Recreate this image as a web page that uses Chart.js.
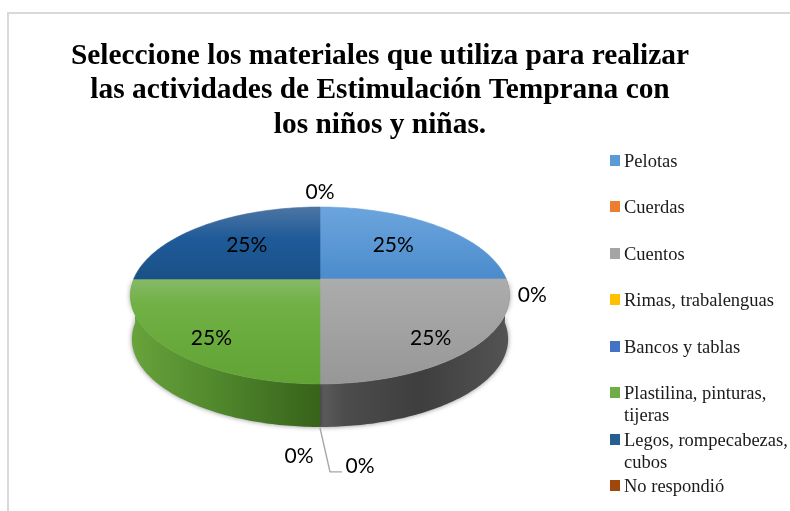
<!DOCTYPE html>
<html>
<head>
<meta charset="utf-8">
<style>html,body{margin:0;padding:0;background:#fff}canvas{display:block}</style>
<script src="https://cdn.jsdelivr.net/npm/chart.js@4/dist/chart.umd.min.js"></script>
</head>
<body>
<canvas id="c" width="790" height="511"></canvas>
<script>
const titleLines = ['Seleccione los materiales que utiliza para realizar','las actividades de Estimulación Temprana con','los niños y niñas.'];
const categories = ['Pelotas','Cuerdas','Cuentos','Rimas, trabalenguas','Bancos y tablas',['Plastilina, pinturas,','tijeras'],['Legos, rompecabezas,','cubos'],'No respondió'];
const percentages = [25,0,25,0,0,25,25,0];
const legendColors = ['#5b9bd5','#ed7d31','#a5a5a5','#ffc000','#4472c4','#70ad47','#255e91','#9e480e'];

// Styling of the pictured perspective pie
const PIE = {cx:320, cy:279, rx:186.3, b:85.4, a:-0.186, depth:44, lowerScale:0.992};
const faceStops = {
  0:[[207,'#6ca5dd'],[279,'#4b8bcc']],
  2:[[279,'#acacac'],[384,'#979797']],
  5:[[279,'#86ba68'],[305,'#70b044'],[384,'#61a335']],
  6:[[207,'#4d75a3'],[238,'#1f5b99'],[279,'#1a5087']]
};
const wallStops = {
  2:[[320,'#5e5c5e'],[345,'#4c4c4c'],[420,'#3e3e3e'],[510,'#545454']],
  5:[[131,'#68a33b'],[210,'#528a2e'],[320,'#37621a']]
};
// [fraction of radius along the slice's mid angle, pixel nudge x, pixel nudge y]
const labelPlacement = [[0.6,0,0],[1,26,16],[0.75,1,9],[1,-21,72],[1,40,82],[0.75,1,9],[0.6,0,0],[1,0,-15]];
const legendLayout = {swatchX:610, swatchW:10, swatchH:11, textX:624, firstY:161, textDy:1, pitch:46.45, linePitch:22};

function project(angle, f, dy, scale){
  const u = Math.cos(angle)*f, v = Math.sin(angle)*f, s = scale||1;
  const d = 1 + PIE.a*v;
  return {x: PIE.cx + s*PIE.rx*u/d, y: PIE.cy + (dy||0) + s*PIE.b*v/d + (s===1?0:(1-s)*(-16))};
}
function rim(ctx, a0, a1, dy, scale, move){
  const n = 96;
  for(let i=0;i<=n;i++){
    const p = project(a0+(a1-a0)*i/n, 1, dy, scale);
    if(i===0 && move) ctx.moveTo(p.x,p.y); else ctx.lineTo(p.x,p.y);
  }
}
function vGrad(ctx, stops){
  const y0=stops[0][0], y1=stops[stops.length-1][0];
  const g=ctx.createLinearGradient(0,y0,0,y1);
  stops.forEach(s=>g.addColorStop((s[0]-y0)/(y1-y0),s[1]));
  return g;
}
function hGrad(ctx, stops){
  const x0=stops[0][0], x1=stops[stops.length-1][0];
  const g=ctx.createLinearGradient(x0,0,x1,0);
  stops.forEach(s=>g.addColorStop((s[0]-x0)/(x1-x0),s[1]));
  return g;
}

// Slice elements stay the library's, computed from the data; only their painting is projected.
Chart.ArcElement.prototype.draw = function(ctx){
  const a0=this.startAngle, a1=this.endAngle;
  if(a1-a0<1e-6) return;
  const fill = faceStops[this.$context.dataIndex] ? vGrad(ctx,faceStops[this.$context.dataIndex]) : this.options.backgroundColor;
  ctx.save();
  ctx.beginPath();
  ctx.moveTo(PIE.cx,PIE.cy);
  rim(ctx,a0,a1,0,1,false);
  ctx.closePath();
  ctx.fillStyle=fill; ctx.strokeStyle=fill; ctx.lineWidth=0.6;
  ctx.fill(); ctx.stroke();
  ctx.restore();
};

const pie3d = {
  id:'pie3d',
  beforeDraw(chart){
    const ctx=chart.ctx;
    ctx.save();
    ctx.fillStyle='#d9d9d9';
    ctx.fillRect(7,12,783,2);
    ctx.fillRect(7,12,2,499);
    ctx.restore();
  },
  beforeDatasetsDraw(chart){
    const ctx=chart.ctx;
    chart.getDatasetMeta(0).data.forEach((arc,i)=>{
      if(!wallStops[i]) return;
      ctx.save();
      ctx.beginPath();
      rim(ctx,arc.startAngle,arc.endAngle,0,1,true);
      rim(ctx,arc.endAngle,arc.startAngle,PIE.depth,PIE.lowerScale,false);
      ctx.closePath();
      ctx.shadowColor='rgba(0,0,0,0.45)';
      ctx.shadowBlur=5;
      ctx.fillStyle=hGrad(ctx,wallStops[i]);
      ctx.fill();
      ctx.restore();
    });
  },
  afterDatasetsDraw(chart){
    const ctx=chart.ctx, meta=chart.getDatasetMeta(0), vals=chart.data.datasets[0].data;
    // leader line of the bottom label
    const bottom=project(Math.PI/2,1,PIE.depth,1);
    const anchor=project(meta.data[4].startAngle,1,0,1);
    ctx.save();
    ctx.strokeStyle='#a6a6a6'; ctx.lineWidth=1.4;
    ctx.beginPath();
    ctx.moveTo(bottom.x,bottom.y);
    ctx.lineTo(anchor.x+10,anchor.y+88);
    ctx.lineTo(anchor.x+22,anchor.y+88);
    ctx.stroke();
    ctx.fillStyle='#000';
    ctx.font='21px Lato';
    ctx.textAlign='center'; ctx.textBaseline='middle';
    meta.data.forEach((arc,i)=>{
      const pl=labelPlacement[i];
      const p=project((arc.startAngle+arc.endAngle)/2,pl[0],0,1);
      ctx.fillText(vals[i]+'%',p.x+pl[1],p.y+pl[2]);
    });
    // legend, with its wrapped entries on an even pitch
    ctx.textAlign='left';
    ctx.font='18.5px "Liberation Serif"';
    const L=legendLayout;
    chart.data.labels.forEach((lab,i)=>{
      const y=L.firstY+i*L.pitch;
      ctx.fillStyle=legendColors[i];
      ctx.fillRect(L.swatchX,Math.round(y-L.swatchH/2-0.5),L.swatchW,L.swatchH);
      ctx.fillStyle='#1a1a1a';
      [].concat(lab).forEach((line,k)=>ctx.fillText(line,L.textX,y+L.textDy+k*L.linePitch));
    });
    ctx.restore();
  }
};

new Chart(document.getElementById('c'),{
  type:'pie',
  data:{labels:categories,datasets:[{data:percentages,backgroundColor:legendColors,borderWidth:0}]},
  options:{
    responsive:false,animation:false,
    layout:{padding:{left:0,right:30,top:39,bottom:20}},
    plugins:{
      legend:{display:false},
      tooltip:{enabled:false},
      title:{display:true,text:titleLines,color:'#000',
        font:{family:'"Liberation Serif"',size:29.4,weight:'bold',lineHeight:1.173},padding:{top:0,bottom:8}}
    }
  },
  plugins:[pie3d]
});
</script>
</body>
</html>
